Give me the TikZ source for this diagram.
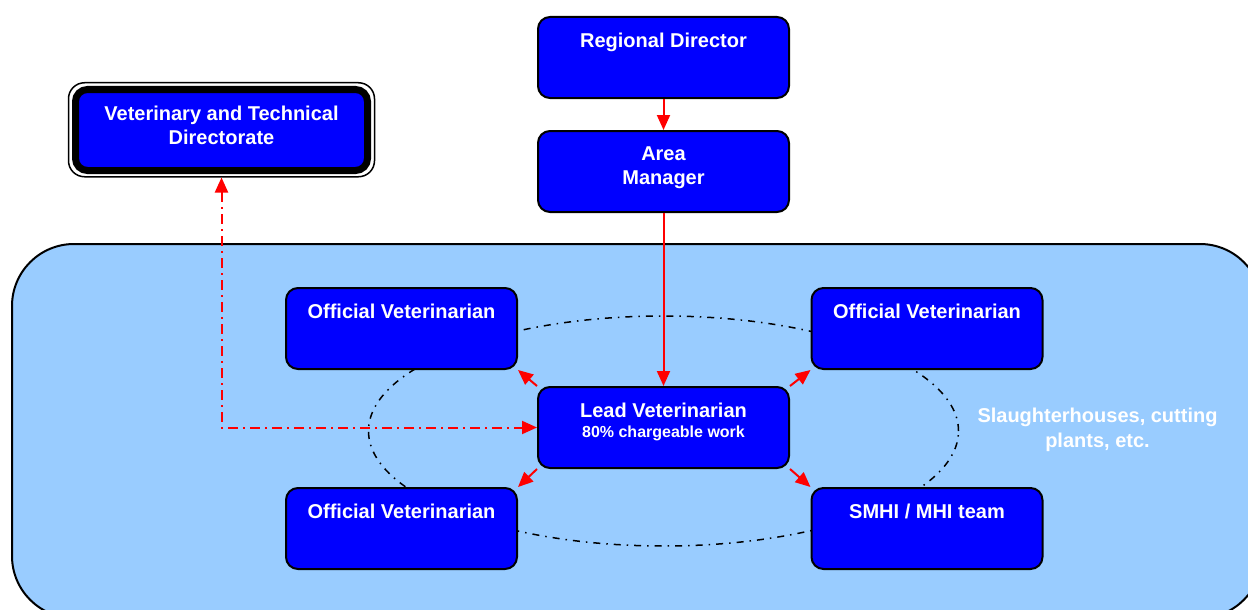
\documentclass[tikz,border=0pt]{standalone}
\usepackage{fontspec}
\setmainfont{Liberation Sans}
\usetikzlibrary{arrows.meta}

\definecolor{unitblue}{HTML}{0000FF}
\definecolor{plantblue}{HTML}{99CCFF}

% top-aligned label inside a box: [width]{height}{gap above}{text}
\newcommand\boxlabel[4][220pt]{%
  \parbox[c][#2][t]{#1}{\centering\vspace*{#3}\fontsize{20}{24}\selectfont #4\par}}

\begin{document}
\begin{tikzpicture}[x=1pt,y=-1pt,
  unit/.style={draw=black, line width=2pt, fill=unitblue, rounded corners=12pt,
    inner sep=0pt, minimum height=81pt, text=white, font=\bfseries},
  wide/.style={unit, minimum width=251pt},
  narrow/.style={unit, minimum width=231pt},
  link/.style={draw=red, line width=2pt, -{Triangle[width=13pt,length=15pt]}},
  report/.style={draw=red, line width=2pt,
    dash pattern=on 10pt off 5pt on 2pt off 5pt,
    {Triangle[width=13pt,length=15pt]}-{Triangle[width=13pt,length=15pt]}},
  ring/.style={draw=black, line width=1.5pt,
    dash pattern=on 7pt off 6pt on 1.5pt off 6pt}]

\useasboundingbox (0,0) rectangle (1248,610);

% premises area
\begin{scope}
  \clip (0,0) rectangle (1248,610);
  \draw[line width=2pt, fill=plantblue, rounded corners=62pt] (12,244) rectangle (1262,618);
\end{scope}

% team ring
\draw[ring] (663.5,431) ellipse [x radius=295pt, y radius=115pt];

% management line
\node[wide] (rd) at (663.5,57.5) {\boxlabel{79pt}{15pt}{Regional Director}};
\node[wide] (am) at (663.5,171.5) {\boxlabel{79pt}{15pt}{Area\\Manager}};

% directorate with its double frame
\node[draw=black, line width=1.5pt, fill=white, rounded corners=16pt,
      minimum width=306pt, minimum height=94pt, inner sep=0pt] (vtdframe) at (221.5,129.75) {};
\node[unit, line width=7pt, minimum width=292pt, minimum height=81pt] (vtd) at (221.5,130)
  {\boxlabel[280pt]{73pt}{13pt}{Veterinary and Technical\\Directorate}};

% plant team
\node[narrow] (ovtl) at (401.5,328.5) {\boxlabel{79pt}{15pt}{Official Veterinarian}};
\node[narrow] (ovtr) at (927,328.5) {\boxlabel{79pt}{15pt}{Official Veterinarian}};
\node[narrow] (ovbl) at (401.5,528.5) {\boxlabel{79pt}{15pt}{Official Veterinarian}};
\node[narrow] (smhi) at (927,528.5) {\boxlabel{79pt}{15pt}{SMHI / MHI team}};
\node[wide] (lv) at (663.5,427.5)
  {\boxlabel{79pt}{15pt}{Lead Veterinarian\par\fontsize{16}{20}\selectfont 80\% chargeable work}};

\node[text=white, font=\bfseries\fontsize{20}{25}\selectfont, align=center,
      inner sep=0pt, anchor=north] (plants) at (1097.5,408)
  {Slaughterhouses, cutting\\plants, etc.};

% connectors
\draw[link] (rd.south) -- (am.north);
\draw[link] (am.south) -- (lv.north);
\draw[link] (lv.north west) -- (ovtl.south east);
\draw[link] (lv.north east) -- (ovtr.south west);
\draw[link] (lv.south west) -- (ovbl.north east);
\draw[link] (lv.south east) -- (smhi.north west);
\draw[report] (vtdframe.south) |- (lv.west);

\end{tikzpicture}
\end{document}
